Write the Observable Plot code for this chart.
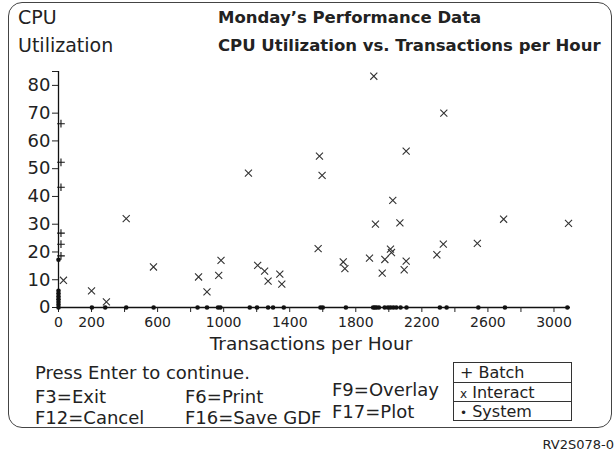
<!DOCTYPE html>
<html><head><meta charset="utf-8">
<script src="https://cdn.jsdelivr.net/npm/d3@7"></script>
<script src="https://cdn.jsdelivr.net/npm/@observablehq/plot@0.6"></script>
<style>
body{margin:0;background:#fff;}
#wrap{position:relative;width:616px;height:453px;font-family:"DejaVu Sans",sans-serif;color:#222;overflow:hidden;background:#fff}
#frame{position:absolute;left:8px;top:2px;width:604px;height:426px;border:1.5px solid #444;border-radius:14px;box-sizing:border-box}
.t{position:absolute;white-space:nowrap;line-height:1}
#chart{position:absolute;left:0;top:0}
#legend{position:absolute;left:453px;top:362px;width:119px;border:1px solid #333;box-sizing:border-box;font-size:16px}
#legend div{height:19px;line-height:19px;padding-left:6px;border-top:1px solid #333;box-sizing:border-box}
#legend div:first-child{border-top:none}
</style></head><body>
<div id="wrap">
 <div id="frame"></div>
 <div id="chart"></div>
 <div class="t" style="left:18px;top:8px;font-size:19px">CPU</div>
 <div class="t" style="left:18px;top:36px;font-size:19px">Utilization</div>
 <div class="t" style="left:218px;top:10px;font-size:16.5px;font-weight:bold">Monday’s Performance Data</div>
 <div class="t" style="left:218px;top:38px;font-size:16.5px;font-weight:bold">CPU Utilization vs. Transactions per Hour</div>
 <div class="t" style="left:311px;top:335px;font-size:18.5px;transform:translateX(-50%)">Transactions per Hour</div>
 <div class="t" style="left:35px;top:364px;font-size:18px">Press Enter to continue.</div>
 <div class="t" style="left:35px;top:388px;font-size:18px">F3=Exit</div>
 <div class="t" style="left:35px;top:409px;font-size:18px">F12=Cancel</div>
 <div class="t" style="left:185px;top:388px;font-size:18px">F6=Print</div>
 <div class="t" style="left:185px;top:409px;font-size:18px">F16=Save GDF</div>
 <div class="t" style="left:332px;top:381px;font-size:18px">F9=Overlay</div>
 <div class="t" style="left:332px;top:403px;font-size:18px">F17=Plot</div>
 <div id="legend"><div>+ Batch</div><div><span style="font-size:12px">x</span> Interact</div><div><span style="font-size:12px">•</span> System</div></div>
 <div class="t" style="right:2px;top:438px;font-size:13px">RV2S078-0</div>
</div>
<script>
// Batch jobs
const batchX = [15, 15, 15, 15, 15, 15];
const batchY = [66.2, 52.3, 43.3, 26.8, 22.8, 18.6];
// Interactive jobs
const interactX = [30, 200, 290, 410, 575, 848, 899, 970, 984, 1150, 1206, 1248, 1269, 1340, 1352,
  1572, 1580, 1596, 1724, 1734, 1883, 1909, 1919, 1960, 1976, 2010, 2016, 2024, 2067, 2093, 2105, 2105,
  2291, 2330, 2333, 2536, 2695, 3088];
const interactY = [9.8, 6, 2, 32, 14.6, 11, 5.6, 11.6, 17, 48.4, 15.2, 13.1, 9.5, 12, 8.4,
  21.2, 54.5, 47.6, 16.4, 14, 17.8, 83.3, 30, 12.4, 17.3, 21, 19.8, 38.6, 30.5, 13.6, 16.7, 56.3,
  19, 22.8, 70, 23.1, 31.8, 30.3];
// System jobs
const systemX = [0, 0, 0, 0, 0, 0, 0, 0, 202, 283, 410, 576, 842, 899, 966, 980, 1158, 1202, 1269, 1299, 1364,
  1586, 1600, 1740, 1905, 1915, 1925, 1940, 1975, 1995, 2010, 2027, 2045, 2071, 2107, 2309, 2350, 2542, 2703, 3081];
const systemY = [0, 1, 2, 3, 4, 5, 6, 17.2, 0, 0, 0, 0, 0, 0, 0, 0, 0, 0, 0, 0, 0,
  0, 0, 0, 0, 0, 0, 0, 0, 0, 0, 0, 0, 0, 0, 0, 0, 0, 0, 0];
// Axis ticks
const yTicks = [0, 10, 20, 30, 40, 50, 60, 70, 80, 85];
const yLabels = [0, 10, 20, 30, 40, 50, 60, 70, 80];
const xMinorTicks = d3.range(0, 3001, 200);
const xLabelTicks = [0, 200, 600, 1000, 1400, 1800, 2200, 2600, 3000];

const batch = batchX.map((x, i) => ({x, y: batchY[i]}));
const interact = interactX.map((x, i) => ({x, y: interactY[i]}));
const system = systemX.map((x, i) => ({x, y: systemY[i]}));

const chart = Plot.plot({
  width: 616, height: 453,
  marginLeft: 58, marginRight: 46, marginTop: 71, marginBottom: 146,
  style: {fontFamily: '"DejaVu Sans",sans-serif', color: "#222", background: "transparent", overflow: "visible"},
  x: {domain: [0, 3100]},
  y: {domain: [0, 85]},
  marks: [
    Plot.ruleY([0], {stroke: "#111", strokeWidth: 1.3}),
    Plot.ruleX([0], {stroke: "#111", strokeWidth: 1.3}),
    Plot.axisY({ticks: yTicks, tickSize: 6, tickPadding: 2, fontSize: 18, label: null, color: "#222",
      tickFormat: d => yLabels.includes(d) ? String(d) : ""}),
    Plot.axisX({ticks: xMinorTicks, tickSize: 5, tickFormat: () => "", label: null, color: "#222"}),
    Plot.axisX({ticks: xLabelTicks, tickSize: 0, tickPadding: 10, fontSize: 14, label: null, color: "#222",
      tickFormat: d => String(d)}),
    Plot.dot(system, {x: "x", y: "y", r: 2.3, fill: "#111", stroke: "none"}),
    Plot.dot(batch, {x: "x", y: "y", symbol: "plus", r: 2.6, stroke: "#111", strokeWidth: 1.1}),
    Plot.dot(interact, {x: "x", y: "y", symbol: "times", r: 3.3, stroke: "#333", strokeWidth: 1.1})
  ]
});
document.getElementById("chart").appendChild(chart);
</script>
</body></html>
